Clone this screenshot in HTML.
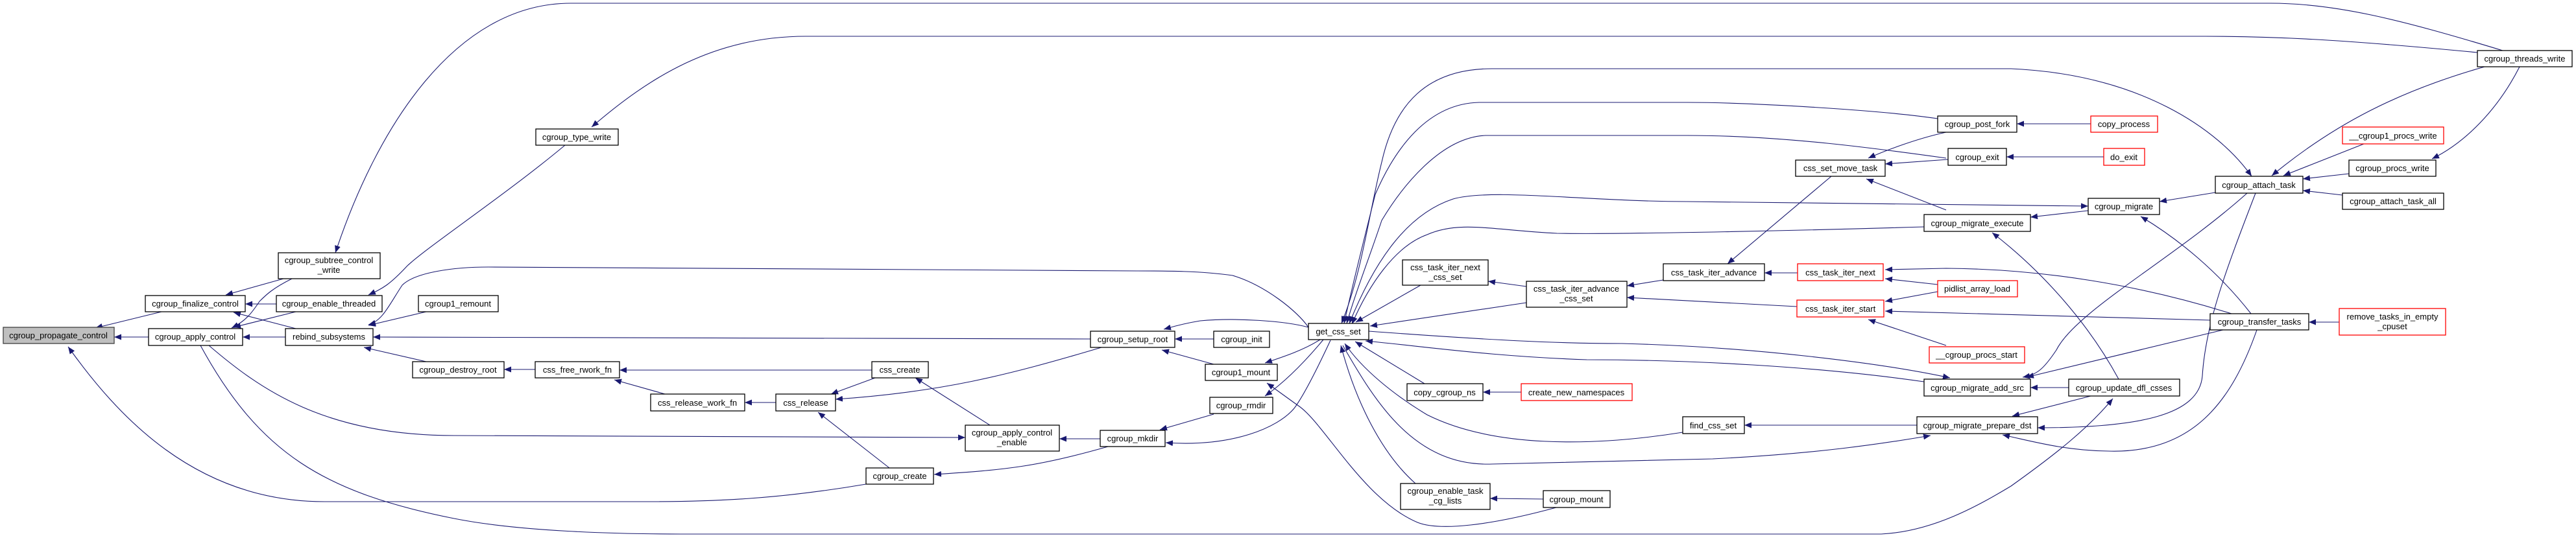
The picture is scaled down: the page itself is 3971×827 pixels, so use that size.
<!DOCTYPE html>
<html><head><meta charset="utf-8"><style>
html,body{margin:0;padding:0;background:#fff;}
svg{display:block;}
text{font-family:"Liberation Sans",Arial,sans-serif;font-size:13px;fill:#000;}
</style></head><body>
<svg width="3971" height="827" viewBox="0 0 3971 827" xmlns="http://www.w3.org/2000/svg">
<defs>
<marker id="a" markerWidth="11" markerHeight="9" refX="11" refY="4.5" orient="auto" markerUnits="userSpaceOnUse"><path d="M0,0 L11,4.5 L0,9z" fill="#191970"/></marker>
<marker id="s" markerWidth="11" markerHeight="9" refX="0" refY="4.5" orient="auto" markerUnits="userSpaceOnUse"><path d="M11,0 L0,4.5 L11,9z" fill="#191970"/></marker>
</defs>
<g fill="none" stroke="#191970" stroke-width="1.1" marker-end="url(#a)">
<path d="M249,481 L147,506"/>
<path d="M229,520 L176,520"/>
<path d="M1335,747 C1200,770 1100,774 1000,774 L500,774 C300,774 180,640 105,535"/>
<path d="M437,430 L348,455"/>
<path d="M426,469 L378,469"/>
<path d="M456,507 L360,482"/>
<path d="M450,430 C420,445 410,455 400,465 C390,480 380,495 357,506"/>
<path d="M456,481 L360,505"/>
<path d="M440,520 L374,520"/>
<path d="M3858,78 C3700,30 3600,5 3500,5 L880,5 C700,5 580,200 517,390"/>
<path d="M871,224 C780,300 660,380 628,410 C600,440 590,445 568,455"/>
<path d="M3819,81 C3600,60 3500,56 3400,56 L1242,56 C1100,56 1000,120 912,196"/>
<path d="M2017,505 C2000,480 1950,440 1900,425 C1850,418 1800,418 1753,418 L753,412 C700,412 640,420 620,440 C600,470 590,495 568,501"/>
<path d="M657,481 L568,502"/>
<path d="M1681,523 L575,520"/>
<path d="M657,558 L561,536"/>
<path d="M825,570 L777,570"/>
<path d="M1344,571 L955,571"/>
<path d="M1025,608 L947,586"/>
<path d="M1196,621 L1148,621"/>
<path d="M1349,583 L1281,608"/>
<path d="M1698,536 C1550,580 1450,605 1288,616"/>
<path d="M1371,722 L1261,636"/>
<path d="M1526,656 L1411,583"/>
<path d="M1696,677 L1633,677"/>
<path d="M1708,689 C1600,720 1550,725 1440,732"/>
<path d="M322,533 C400,600 500,672 700,672 L1488,675"/>
<path d="M1871,523 L1811,523"/>
<path d="M1871,562 L1791,540"/>
<path d="M1871,639 L1788,663"/>
<path d="M2017,505 C1980,495 1906,490 1850,495 C1820,500 1805,505 1794,508"/>
<path d="M2035,524 C2010,540 1980,550 1950,560"/>
<path d="M2040,524 C2010,560 1980,590 1950,611"/>
<path d="M2051,525 C2030,570 2010,610 1995,630 C1970,660 1900,690 1797,683"/>
<path d="M2399,783 C2300,810 2220,820 2185,806 C2100,770 2040,650 2000,625 L1953,591"/>
<path marker-start="url(#s)" d="M3471,272 C3420,200 3300,115 3100,106 L2300,106 C2200,106 2150,160 2130,250 C2110,330 2100,420 2068,499"/>
<path d="M2987,183 C2900,170 2700,158 2600,158 L2280,158 C2200,160 2150,230 2120,300 C2100,380 2085,440 2072,499"/>
<path d="M3000,244 C2900,230 2750,209 2600,209 L2290,209 C2220,212 2160,290 2130,340 C2110,400 2090,450 2076,499"/>
<path marker-start="url(#s)" d="M3219,318 L2600,311 C2450,311 2300,290 2240,307 C2170,330 2120,400 2080,499"/>
<path d="M2966,350 C2800,355 2500,362 2400,360 C2300,355 2250,340 2200,362 C2150,380 2110,440 2084,500"/>
<path d="M2190,440 L2090,497"/>
<path d="M2353,467 L2112,503"/>
<path d="M2353,442 L2294,434"/>
<path d="M2564,432 L2508,441"/>
<path d="M2770,473 L2508,459"/>
<path d="M2771,421 L2720,421"/>
<path d="M2823,272 L2663,407"/>
<path d="M2110,511 C2300,525 2400,530 2500,530 C2700,535 2900,560 3006,583"/>
<path d="M2966,589 C2800,565 2600,555 2446,555 C2300,550 2200,535 2105,526"/>
<path d="M2196,592 L2089,527"/>
<path d="M2345,605 L2286,605"/>
<path d="M2594,667 C2450,690 2300,690 2200,640 C2150,610 2100,570 2073,530"/>
<path d="M2955,656 L2689,656"/>
<path d="M2070,533 C2120,620 2180,720 2300,716 L2640,708 C2800,700 2900,685 2976,672"/>
<path d="M2182,746 C2130,700 2090,620 2067,533"/>
<path d="M2379,770 L2297,769"/>
<path d="M3000,204 C2950,215 2900,235 2880,244"/>
<path d="M3003,246 L2906,253"/>
<path d="M3000,324 L2877,276"/>
<path d="M3440,484 C3300,440 3150,415 3000,414 L2906,416"/>
<path d="M2987,439 L2906,430"/>
<path d="M2987,450 L2906,465"/>
<path d="M3407,494 L2906,480"/>
<path d="M3000,533 L2880,493"/>
<path d="M3223,191 L3109,191"/>
<path d="M3243,242 L3093,242"/>
<path d="M3219,325 L3130,335"/>
<path d="M3415,297 L3329,311"/>
<path d="M3830,103 C3700,140 3600,190 3502,271"/>
<path d="M3644,222 L3520,271"/>
<path d="M3621,268 L3550,276"/>
<path d="M3611,301 L3550,294"/>
<path d="M3884,103 C3850,170 3800,220 3749,245"/>
<path d="M3606,497 L3559,497"/>
<path d="M3470,484 C3420,420 3360,370 3300,334"/>
<path d="M3464,298 C3350,400 3200,480 3170,540 C3150,570 3140,578 3118,582"/>
<path d="M3427,509 L3124,582"/>
<path d="M3477,298 C3430,420 3400,500 3395,580 C3390,640 3300,660 3141,660"/>
<path d="M3479,509 C3440,620 3380,700 3250,696 C3180,695 3130,680 3087,671"/>
<path d="M3189,598 L3130,598"/>
<path d="M3223,611 L3102,642"/>
<path d="M3266,585 C3220,500 3150,420 3071,359"/>
<path d="M309,533 C400,700 500,760 700,800 C800,820 950,824 1050,824 L2900,824 C2980,820 3050,780 3100,750 C3170,700 3220,660 3257,615"/>
</g>
<g stroke-width="1.3">
<rect x="5" y="505" width="171" height="25" fill="#bfbfbf" stroke="#404040"/>
<rect x="224" y="456" width="154" height="25" fill="#fff" stroke="#000"/>
<rect x="229" y="507" width="145" height="26" fill="#fff" stroke="#000"/>
<rect x="429" y="390" width="157" height="40" fill="#fff" stroke="#000"/>
<rect x="426" y="456" width="163" height="25" fill="#fff" stroke="#000"/>
<rect x="440" y="507" width="135" height="26" fill="#fff" stroke="#000"/>
<rect x="826" y="199" width="127" height="25" fill="#fff" stroke="#000"/>
<rect x="645" y="456" width="123" height="25" fill="#fff" stroke="#000"/>
<rect x="636" y="558" width="141" height="25" fill="#fff" stroke="#000"/>
<rect x="825" y="558" width="130" height="25" fill="#fff" stroke="#000"/>
<rect x="1681" y="511" width="130" height="25" fill="#fff" stroke="#000"/>
<rect x="1871" y="511" width="86" height="25" fill="#fff" stroke="#000"/>
<rect x="1858" y="562" width="111" height="25" fill="#fff" stroke="#000"/>
<rect x="1865" y="613" width="97" height="25" fill="#fff" stroke="#000"/>
<rect x="1696" y="664" width="100" height="25" fill="#fff" stroke="#000"/>
<rect x="1488" y="656" width="145" height="40" fill="#fff" stroke="#000"/>
<rect x="1344" y="558" width="87" height="25" fill="#fff" stroke="#000"/>
<rect x="1196" y="608" width="92" height="26" fill="#fff" stroke="#000"/>
<rect x="1003" y="608" width="145" height="26" fill="#fff" stroke="#000"/>
<rect x="1335" y="722" width="104" height="25" fill="#fff" stroke="#000"/>
<rect x="2017" y="499" width="93" height="25" fill="#fff" stroke="#000"/>
<rect x="2162" y="401" width="132" height="39" fill="#fff" stroke="#000"/>
<rect x="2353" y="434" width="155" height="40" fill="#fff" stroke="#000"/>
<rect x="2564" y="407" width="156" height="26" fill="#fff" stroke="#000"/>
<rect x="2771" y="407" width="132" height="26" fill="#fff" stroke="#ff0000"/>
<rect x="2770" y="463" width="134" height="26" fill="#fff" stroke="#ff0000"/>
<rect x="2768" y="247" width="138" height="25" fill="#fff" stroke="#000"/>
<rect x="2169" y="592" width="117" height="26" fill="#fff" stroke="#000"/>
<rect x="2345" y="592" width="171" height="26" fill="#fff" stroke="#ff0000"/>
<rect x="2594" y="643" width="95" height="26" fill="#fff" stroke="#000"/>
<rect x="2159" y="746" width="138" height="40" fill="#fff" stroke="#000"/>
<rect x="2379" y="757" width="103" height="26" fill="#fff" stroke="#000"/>
<rect x="3819" y="78" width="146" height="25" fill="#fff" stroke="#000"/>
<rect x="2987" y="179" width="122" height="25" fill="#fff" stroke="#000"/>
<rect x="3223" y="179" width="103" height="25" fill="#fff" stroke="#ff0000"/>
<rect x="3003" y="229" width="90" height="26" fill="#fff" stroke="#000"/>
<rect x="3243" y="229" width="63" height="26" fill="#fff" stroke="#ff0000"/>
<rect x="2966" y="331" width="164" height="26" fill="#fff" stroke="#000"/>
<rect x="3219" y="306" width="110" height="25" fill="#fff" stroke="#000"/>
<rect x="3415" y="272" width="135" height="26" fill="#fff" stroke="#000"/>
<rect x="3611" y="196" width="156" height="26" fill="#fff" stroke="#ff0000"/>
<rect x="3621" y="247" width="134" height="25" fill="#fff" stroke="#000"/>
<rect x="3611" y="298" width="156" height="25" fill="#fff" stroke="#000"/>
<rect x="2987" y="433" width="123" height="25" fill="#fff" stroke="#ff0000"/>
<rect x="3407" y="484" width="152" height="25" fill="#fff" stroke="#000"/>
<rect x="3606" y="476" width="164" height="41" fill="#fff" stroke="#ff0000"/>
<rect x="2974" y="535" width="147" height="25" fill="#fff" stroke="#ff0000"/>
<rect x="2966" y="585" width="164" height="26" fill="#fff" stroke="#000"/>
<rect x="3189" y="585" width="171" height="26" fill="#fff" stroke="#000"/>
<rect x="2955" y="643" width="186" height="26" fill="#fff" stroke="#000"/>
</g>
<g text-anchor="middle">
<text x="90" y="522">cgroup_propagate_control</text>
<text x="301" y="473">cgroup_finalize_control</text>
<text x="301" y="524">cgroup_apply_control</text>
<text x="507" y="406">cgroup_subtree_control</text><text x="507" y="421">_write</text>
<text x="507" y="473">cgroup_enable_threaded</text>
<text x="507" y="524">rebind_subsystems</text>
<text x="889" y="216">cgroup_type_write</text>
<text x="706" y="473">cgroup1_remount</text>
<text x="706" y="575">cgroup_destroy_root</text>
<text x="890" y="575">css_free_rwork_fn</text>
<text x="1746" y="528">cgroup_setup_root</text>
<text x="1914" y="528">cgroup_init</text>
<text x="1913" y="579">cgroup1_mount</text>
<text x="1913" y="630">cgroup_rmdir</text>
<text x="1746" y="681">cgroup_mkdir</text>
<text x="1560" y="672">cgroup_apply_control</text><text x="1560" y="687">_enable</text>
<text x="1387" y="575">css_create</text>
<text x="1242" y="626">css_release</text>
<text x="1075" y="626">css_release_work_fn</text>
<text x="1387" y="739">cgroup_create</text>
<text x="2063" y="516">get_css_set</text>
<text x="2228" y="417">css_task_iter_next</text><text x="2228" y="432">_css_set</text>
<text x="2430" y="450">css_task_iter_advance</text><text x="2430" y="465">_css_set</text>
<text x="2642" y="425">css_task_iter_advance</text>
<text x="2837" y="425">css_task_iter_next</text>
<text x="2837" y="481">css_task_iter_start</text>
<text x="2837" y="264">css_set_move_task</text>
<text x="2227" y="610">copy_cgroup_ns</text>
<text x="2430" y="610">create_new_namespaces</text>
<text x="2641" y="661">find_css_set</text>
<text x="2228" y="762">cgroup_enable_task</text><text x="2228" y="777">_cg_lists</text>
<text x="2430" y="775">cgroup_mount</text>
<text x="3892" y="95">cgroup_threads_write</text>
<text x="3048" y="196">cgroup_post_fork</text>
<text x="3274" y="196">copy_process</text>
<text x="3048" y="247">cgroup_exit</text>
<text x="3274" y="247">do_exit</text>
<text x="3048" y="349">cgroup_migrate_execute</text>
<text x="3274" y="323">cgroup_migrate</text>
<text x="3482" y="290">cgroup_attach_task</text>
<text x="3689" y="214">__cgroup1_procs_write</text>
<text x="3688" y="264">cgroup_procs_write</text>
<text x="3689" y="315">cgroup_attach_task_all</text>
<text x="3048" y="450">pidlist_array_load</text>
<text x="3483" y="501">cgroup_transfer_tasks</text>
<text x="3688" y="493">remove_tasks_in_empty</text><text x="3688" y="508">_cpuset</text>
<text x="3047" y="552">__cgroup_procs_start</text>
<text x="3048" y="603">cgroup_migrate_add_src</text>
<text x="3274" y="603">cgroup_update_dfl_csses</text>
<text x="3048" y="661">cgroup_migrate_prepare_dst</text>
</g>
</svg>
</body></html>
